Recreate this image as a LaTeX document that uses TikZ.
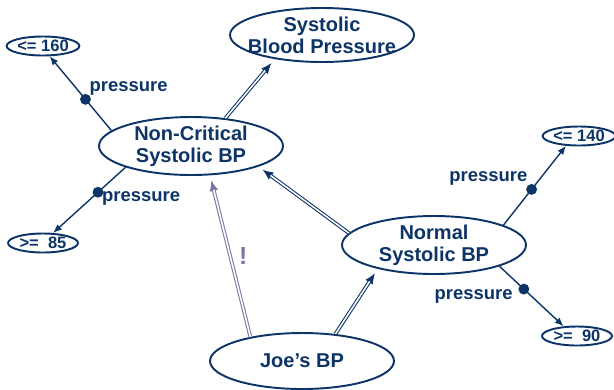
\documentclass[tikz,border=0pt]{standalone}
\usepackage{fontspec}
\setmainfont{Liberation Sans}
\usetikzlibrary{shapes.geometric,arrows.meta}
\definecolor{navy}{HTML}{0D3467}
\definecolor{lilac}{HTML}{7C76A9}
\tikzset{
  concept/.style={ellipse,draw=navy,line width=1.1pt,text=navy,align=center,
    font=\fontsize{11.4}{12.5}\selectfont\bfseries,
    minimum width=3.68cm,minimum height=1.16cm,inner sep=0pt},
  value/.style={ellipse,draw=navy,line width=1.1pt,text=navy,
    font=\fontsize{9.4}{10}\selectfont\bfseries,
    minimum width=1.4cm,minimum height=0.38cm,inner sep=0pt},
  isa/.style={draw=#1,line width=0.5pt,shorten >=3pt,-{Latex[length=6pt,width=5pt]},
    preaction={draw=#1,line width=2.1pt,-,shorten >=8pt},
    postaction={draw=white,line width=0.9pt,-,shorten >=8.5pt}},
  isa/.default=navy,
  role/.style={draw=navy,line width=0.8pt,-{Latex[length=5pt,width=4pt]}},
  dot/.style={circle,fill=navy,inner sep=0pt,minimum size=6.2pt},
  rolename/.style={text=navy,inner sep=2pt,font=\fontsize{10.5}{12}\selectfont\bfseries}
}
\begin{document}
\begin{tikzpicture}[x=0.02cm,y=-0.02cm]
  \useasboundingbox (0,0) rectangle (614,389);
  \draw
    (322,35) node[concept,minimum height=1.08cm] (sbp){Systolic\\\makebox[0pt]{Blood Pressure}}
    (191,146) node[concept] (ncsbp){Non-Critical\\Systolic BP}
    (434,245) node[concept] (nsbp){Normal\\Systolic BP}
    (302,361) node[concept,minimum height=1.12cm] (joe){Joe’s BP}
    (43,46) node[value] (le160){<= 160}
    (43,243) node[value] (ge85){>=\ \ 85}
    (579,136) node[value] (le140){<= 140}
    (577,336) node[value] (ge90){>=\ \ 90};
  \begin{scope}[role]
    \draw (ncsbp.169) -- node[dot,pos=0.42]{}
      node[rolename,pos=0.42,anchor=south west]{pressure} (le160.-57);
    \draw (ncsbp.198) -- node[dot,pos=0.38]{}
      node[rolename,pos=0.38,anchor=north west,yshift=3pt]{pressure} (ge85.45);
    \draw (nsbp.16) -- node[dot,pos=0.45]{}
      node[rolename,pos=0.45,anchor=south east]{pressure} (le140.217);
    \draw (nsbp.-18) -- node[dot,pos=0.38]{}
      node[rolename,pos=0.38,anchor=north east,xshift=-4pt,yshift=2pt]{pressure} (ge90.144);
  \end{scope}
  \draw[isa] (ncsbp.39) to (sbp.207);
  \draw[isa] (nsbp.172) to (ncsbp.-17);
  \draw[isa] (joe.39) to (nsbp.203);
  \draw[isa=lilac] (joe.155) to node[right=1.5pt,text=lilac,
    font=\fontsize{14}{15}\selectfont\bfseries]{!} (ncsbp.-57);
\end{tikzpicture}
\end{document}
